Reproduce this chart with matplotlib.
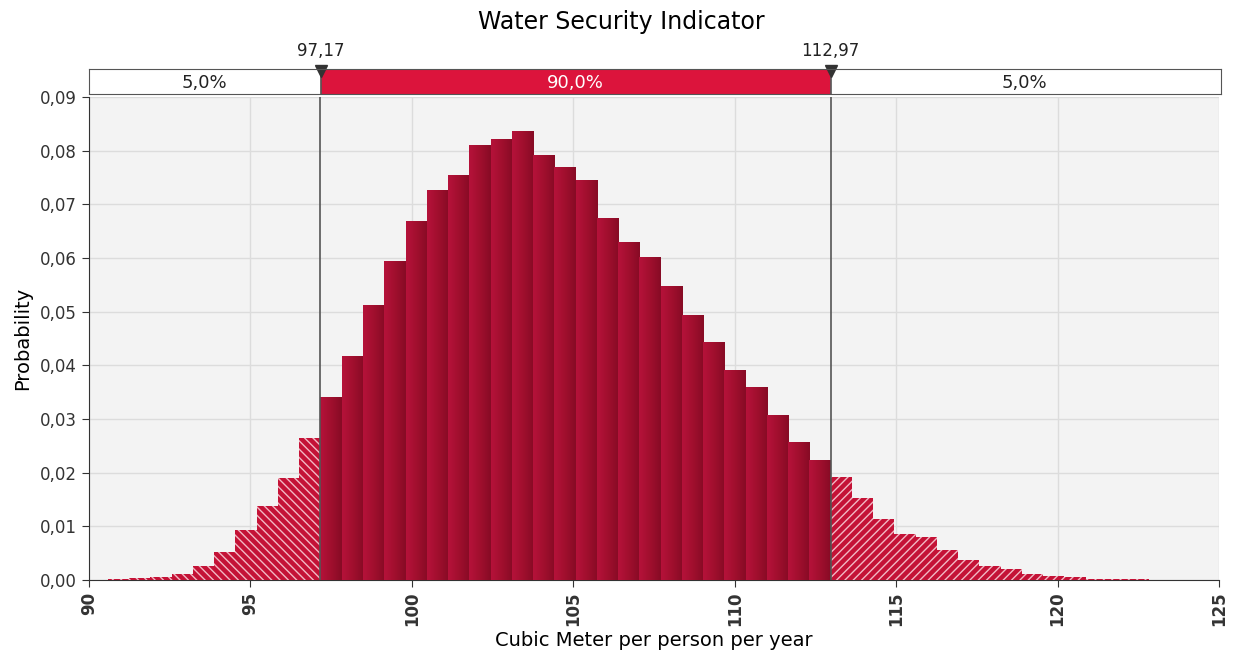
import numpy as np
import matplotlib
matplotlib.use("Agg")
import matplotlib.pyplot as plt
from matplotlib.ticker import FuncFormatter
from matplotlib.colors import LinearSegmentedColormap

# delimiters and bin layout
low_cut = 97.17
high_cut = 112.97
n_mid = 24
bin_w = (high_cut - low_cut) / n_mid

# bar heights, left tail (ending at 97.17), middle, right tail (starting at 112.97)
left_tail = [0.0002, 0.0004, 0.0006, 0.0011, 0.0027, 0.0053, 0.0093, 0.0137, 0.0190, 0.0265]
middle = [0.0340, 0.0417, 0.0512, 0.0594, 0.0668, 0.0726, 0.0753, 0.0809, 0.0821, 0.0835,
          0.0791, 0.0768, 0.0745, 0.0673, 0.0629, 0.0601, 0.0546, 0.0492, 0.0443, 0.0390,
          0.0359, 0.0306, 0.0257, 0.0222]
right_tail = [0.0191, 0.0152, 0.0114, 0.0086, 0.0080, 0.0055, 0.0037, 0.0027, 0.0021,
              0.0011, 0.0008, 0.0006, 0.0002, 0.0002, 0.00015]

band_labels = ["5,0%", "90,0%", "5,0%"]
x_ticks = [90, 95, 100, 105, 110, 115, 120, 125]
y_ticks = [0.00, 0.01, 0.02, 0.03, 0.04, 0.05, 0.06, 0.07, 0.08, 0.09]

plt.rcParams['font.family'] = ['DejaVu Sans']
plt.rcParams['hatch.linewidth'] = 1.0

fig = plt.figure(figsize=(12.42, 6.59), dpi=100)
ax = fig.add_axes([89 / 1242, 1 - 580 / 659, 1130 / 1242, 483 / 659])
ax.set_facecolor('#f3f3f3')

grad = LinearSegmentedColormap.from_list('bar', ['#b5123a', '#a10f2e', '#870b25'])
g = np.linspace(0, 1, 32).reshape(1, -1)

# middle bars with horizontal shading
for i, h in enumerate(middle):
    x0 = low_cut + i * bin_w
    ax.imshow(g, cmap=grad, extent=[x0, x0 + bin_w, 0, h], aspect='auto',
              interpolation='bilinear', zorder=3)

# tails: hatched bars
lx = [low_cut - (len(left_tail) - i) * bin_w for i in range(len(left_tail))]
rx = [high_cut + i * bin_w for i in range(len(right_tail))]
ax.bar(lx, left_tail, width=bin_w, align='edge', color='#c41236',
       edgecolor='#f2b8c4', hatch='\\\\\\\\', linewidth=0, zorder=3)
ax.bar(rx, right_tail, width=bin_w, align='edge', color='#c41236',
       edgecolor='#f2b8c4', hatch='////', linewidth=0, zorder=3)

# delimiter lines
for c in (low_cut, high_cut):
    ax.axvline(c, color='#555555', lw=1.2, zorder=4)

ax.set_xlim(90, 125)
ax.set_ylim(0, 0.09)
ax.set_xticks(x_ticks)
ax.set_yticks(y_ticks)
ax.xaxis.set_major_formatter(FuncFormatter(lambda v, p: f"{v:.0f}"))
ax.yaxis.set_major_formatter(FuncFormatter(lambda v, p: f"{v:.2f}".replace('.', ',')))
ax.tick_params(axis='x', labelrotation=90, labelsize=12, length=5, color='#333333')
ax.tick_params(axis='y', labelsize=12, length=5, color='#333333')
for lbl in ax.get_xticklabels():
    lbl.set_fontweight('bold')
    lbl.set_color('#333333')
for lbl in ax.get_yticklabels():
    lbl.set_color('#333333')
ax.grid(True, color='#dcdcdc', lw=1, zorder=0)
ax.set_axisbelow(True)
for s in ('top', 'right'):
    ax.spines[s].set_visible(False)
ax.spines['left'].set_color('#333333')
ax.spines['bottom'].set_color('#333333')

ax.set_xlabel('Cubic Meter per person per year', fontsize=14, labelpad=3)
ax.set_ylabel('Probability', fontsize=14, labelpad=6)

# top band with percentages
band = fig.add_axes([89 / 1242, 1 - 94 / 659, 1132 / 1242, 25 / 659])
band.set_xlim(90, 125.06)
band.set_ylim(0, 1)
band.axvspan(90, low_cut, color='white')
band.axvspan(low_cut, high_cut, color='#dc143c')
band.axvspan(high_cut, 125.06, color='white')
band.set_xticks([])
band.set_yticks([])
for s in band.spines.values():
    s.set_color('#555555')
centers = [(90 + low_cut) / 2, (low_cut + high_cut) / 2, (high_cut + 125) / 2]
colors = ['#222222', 'white', '#222222']
for cx, t, col in zip(centers, band_labels, colors):
    band.text(cx, 0.45, t, ha='center', va='center', fontsize=13, color=col)
for c in (low_cut, high_cut):
    band.axvline(c, color='#555555', lw=1.2)
    band.plot([c], [0.92], marker='v', color='#333333', markersize=9, clip_on=False)
    band.text(c, 1.35, f"{c:.2f}".replace('.', ','), ha='center', va='bottom',
              fontsize=12, color='#222222')

fig.text(0.5, 1 - 22 / 659, 'Water Security Indicator', ha='center', va='center', fontsize=17)

fig.savefig('out.png', dpi=100)
